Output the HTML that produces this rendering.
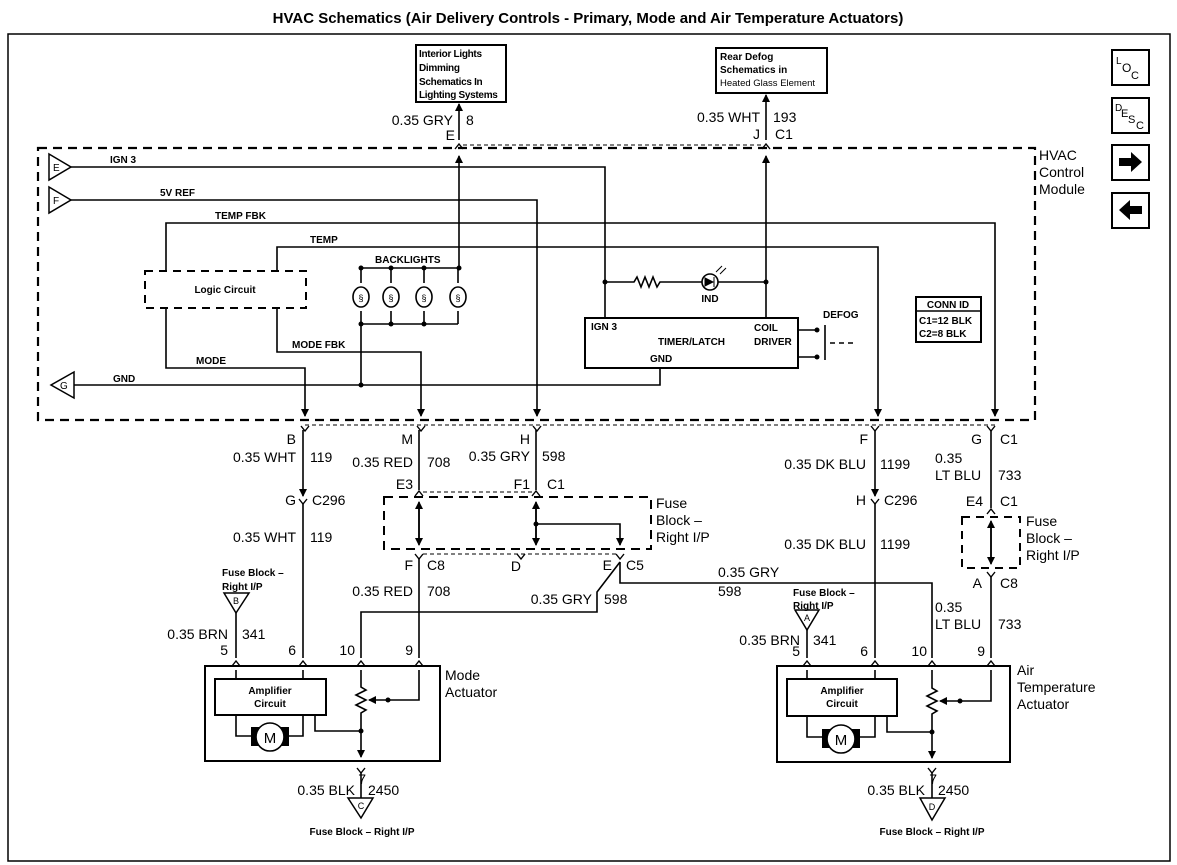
<!DOCTYPE html>
<html><head><meta charset="utf-8"><style>
html,body{margin:0;padding:0;background:#fff}
svg{display:block}
text{font-family:"Liberation Sans",Arial,sans-serif;fill:#000}
.w{fill:none;stroke:#000;stroke-width:1.6}
.d{fill:none;stroke:#000;stroke-width:2.2;stroke-dasharray:9,6}
.t{fill:none;stroke:#000;stroke-width:1;stroke-dasharray:4,3}
.l{font-size:14px}
.s{font-size:10px;font-weight:bold}
.m{font-size:10px;font-weight:bold;letter-spacing:-0.3px}
</style></head><body>
<svg width="1177" height="865" viewBox="0 0 1177 865" xmlns="http://www.w3.org/2000/svg">
<defs>
<marker id="a" markerWidth="8" markerHeight="8" refX="7" refY="4" orient="auto" markerUnits="userSpaceOnUse"><path d="M0,0 L8,4 L0,8 z" fill="#000"/></marker>
<g id="cd"><path d="M-4,-4 L0,1 L4,-4" fill="none" stroke="#000" stroke-width="1.4"/></g>
<g id="cu"><path d="M-4,4 L0,-1 L4,4" fill="none" stroke="#000" stroke-width="1.4"/></g>
<g id="dot"><circle r="2.5" fill="#000"/></g>
</defs>
<text x="588" y="23" font-size="15" font-weight="bold" text-anchor="middle">HVAC Schematics (Air Delivery Controls - Primary, Mode and Air Temperature Actuators)</text>
<rect x="8" y="34" width="1162" height="827" fill="none" stroke="#000" stroke-width="1.5"/>

<g fill="none" stroke="#000" stroke-width="2">
<rect x="1112" y="50" width="37" height="35"/><rect x="1112" y="98" width="37" height="35"/>
<rect x="1112" y="145" width="37" height="35"/><rect x="1112" y="193" width="37" height="35"/></g>
<text x="1116" y="64" font-size="10">L</text><text x="1122" y="72" font-size="12">O</text><text x="1131" y="79" font-size="11">C</text>
<text x="1115" y="111" font-size="10">D</text><text x="1121" y="117" font-size="11">E</text><text x="1128" y="123" font-size="11">S</text><text x="1136" y="129" font-size="11">C</text>
<path d="M1119,158 h12 v-6 l11,10 l-11,10 v-6 h-12 z" fill="#000"/>
<path d="M1142,206 h-12 v-6 l-11,10 l11,10 v-6 h12 z" fill="#000"/>

<rect x="416" y="45" width="90" height="57" fill="none" stroke="#000" stroke-width="2"/>
<text class="m" x="419" y="57">Interior Lights</text><text class="m" x="419" y="71">Dimming</text><text class="m" x="419" y="85">Schematics In</text><text class="m" x="419" y="98">Lighting Systems</text>
<rect x="716" y="48" width="111" height="45" fill="none" stroke="#000" stroke-width="2"/>
<text class="s" x="720" y="60">Rear Defog</text><text class="s" x="720" y="73">Schematics in</text><text font-size="9.5" x="720" y="86">Heated Glass Element</text>
<line class="w" x1="459" y1="140" x2="459" y2="104" marker-end="url(#a)"/>
<line class="w" x1="766" y1="140" x2="766" y2="95" marker-end="url(#a)"/>
<use href="#cu" x="459" y="145"/><use href="#cu" x="766" y="145"/>
<text class="l" x="453" y="125" text-anchor="end">0.35 GRY</text><text class="l" x="466" y="125">8</text><text class="l" x="455" y="140" text-anchor="end">E</text>
<text class="l" x="760" y="122" text-anchor="end">0.35 WHT</text><text class="l" x="773" y="122">193</text><text class="l" x="760" y="139" text-anchor="end">J</text><text class="l" x="775" y="139">C1</text>
<line class="t" x1="463" y1="145" x2="762" y2="145"/>

<rect class="d" x="38" y="148" width="997" height="272"/>
<text x="1039" y="160" font-size="14">HVAC</text><text x="1039" y="177" font-size="14">Control</text><text x="1039" y="194" font-size="14">Module</text>

<path d="M49,154 L71,167 L49,180 z" fill="#fff" stroke="#000" stroke-width="1.5"/><text x="53" y="171" font-size="10">E</text>
<path d="M49,187 L71,200 L49,213 z" fill="#fff" stroke="#000" stroke-width="1.5"/><text x="53" y="204" font-size="10">F</text>
<path d="M74,372 L51,385 L74,398 z" fill="#fff" stroke="#000" stroke-width="1.5"/><text x="60" y="389" font-size="10">G</text>

<path class="w" d="M71,167 H605 V318"/>
<path class="w" d="M71,200 H537 V416" marker-end="url(#a)"/>
<path class="w" d="M166,271 V223 H995 V416" marker-end="url(#a)"/>
<path class="w" d="M277,271 V247 H878 V416" marker-end="url(#a)"/>
<path class="w" d="M166,308 V368 H305 V416" marker-end="url(#a)"/>
<path class="w" d="M277,308 V352 H421 V416" marker-end="url(#a)"/>
<path class="w" d="M74,385 H660 V368"/>
<path class="w" d="M459,268 V156" marker-end="url(#a)"/>
<path class="w" d="M766,318 V156" marker-end="url(#a)"/>
<text class="s" x="110" y="163">IGN 3</text><text class="s" x="160" y="196">5V REF</text>
<text class="s" x="215" y="219">TEMP FBK</text><text class="s" x="310" y="243">TEMP</text>
<text class="s" x="375" y="263">BACKLIGHTS</text><text class="s" x="292" y="348">MODE FBK</text>
<text class="s" x="196" y="364">MODE</text><text class="s" x="113" y="382">GND</text>

<rect x="145" y="271" width="161" height="37" fill="none" stroke="#000" stroke-width="2" stroke-dasharray="8,6"/>
<text class="s" x="225" y="293" text-anchor="middle">Logic Circuit</text>

<path class="w" d="M361,268 H459 M361,268 V283 M391,268 V283 M424,268 V283 M458,268 V283 M361,311 V324 M391,311 V324 M424,311 V324 M458,311 V324 M361,324 H458 M361,324 V385"/>
<g fill="#fff" stroke="#000" stroke-width="1.6">
<ellipse cx="361" cy="297" rx="8" ry="10"/><ellipse cx="391" cy="297" rx="8" ry="10"/><ellipse cx="424" cy="297" rx="8" ry="10"/><ellipse cx="458" cy="297" rx="8" ry="10"/></g>
<g font-size="9" text-anchor="middle"><text x="361" y="301">§</text><text x="391" y="301">§</text><text x="424" y="301">§</text><text x="458" y="301">§</text></g>
<use href="#dot" x="361" y="268"/><use href="#dot" x="391" y="268"/><use href="#dot" x="424" y="268"/><use href="#dot" x="459" y="268"/>
<use href="#dot" x="361" y="324"/><use href="#dot" x="391" y="324"/><use href="#dot" x="424" y="324"/><use href="#dot" x="361" y="385"/>

<path class="w" d="M605,282 H634 l3,-5 l4,10 l4,-10 l4,10 l4,-10 l4,10 l3,-5 H702 M718,282 H766"/>
<circle cx="710" cy="282" r="8" fill="none" stroke="#000" stroke-width="1.6"/>
<path d="M705,278 L713,282 L705,286 z M714,277 V287" fill="#000" stroke="#000"/>
<path d="M716,272 l6,-6 M720,274 l6,-6" stroke="#000" stroke-width="1"/>
<use href="#dot" x="605" y="282"/><use href="#dot" x="766" y="282"/>
<text class="s" x="710" y="302" text-anchor="middle">IND</text>

<rect x="585" y="318" width="213" height="50" fill="none" stroke="#000" stroke-width="2"/>
<text class="s" x="591" y="330">IGN 3</text><text class="s" x="658" y="345">TIMER/LATCH</text><text class="s" x="650" y="362">GND</text>
<text class="s" x="754" y="331">COIL</text><text class="s" x="754" y="345">DRIVER</text>
<path class="w" d="M798,330 H817 M798,357 H817 M825,325 V360"/><use href="#dot" x="817" y="330"/><use href="#dot" x="817" y="357"/>
<path d="M830,343 H853" stroke="#000" stroke-width="1.5" stroke-dasharray="5,4"/>
<text class="s" x="823" y="318">DEFOG</text>
<rect x="916" y="297" width="65" height="45" fill="none" stroke="#000" stroke-width="2"/><line x1="916" y1="311" x2="981" y2="311" stroke="#000" stroke-width="1.5"/>
<text class="s" x="948" y="308" text-anchor="middle">CONN ID</text><text class="s" x="919" y="324">C1=12 BLK</text><text class="s" x="919" y="337">C2=8 BLK</text>

<line class="t" x1="305" y1="425" x2="995" y2="425"/>
<g><use href="#cd" x="305" y="430"/><use href="#cd" x="421" y="430"/><use href="#cd" x="537" y="430"/><use href="#cd" x="875" y="430"/><use href="#cd" x="991" y="430"/></g>

<path class="w" d="M303,430 V496" marker-end="url(#a)"/><use href="#cd" x="303" y="503"/>
<path class="w" d="M303,503 V658"/>
<text class="l" x="296" y="444" text-anchor="end">B</text><text class="l" x="296" y="462" text-anchor="end">0.35 WHT</text><text class="l" x="310" y="462">119</text>
<text class="l" x="296" y="505" text-anchor="end">G</text><text class="l" x="312" y="505">C296</text>
<text class="l" x="296" y="542" text-anchor="end">0.35 WHT</text><text class="l" x="310" y="542">119</text>

<path class="w" d="M419,430 V490"/><use href="#cu" x="419" y="492"/>
<text class="l" x="413" y="444" text-anchor="end">M</text><text class="l" x="413" y="467" text-anchor="end">0.35 RED</text><text class="l" x="427" y="467">708</text>
<text class="l" x="413" y="489" text-anchor="end">E3</text>
<path class="w" d="M536,430 V490"/><use href="#cu" x="536" y="492"/>
<text class="l" x="530" y="444" text-anchor="end">H</text><text class="l" x="530" y="461" text-anchor="end">0.35 GRY</text><text class="l" x="542" y="461">598</text>
<text class="l" x="530" y="489" text-anchor="end">F1</text><text class="l" x="547" y="489">C1</text>
<line class="t" x1="423" y1="492" x2="532" y2="492"/>

<rect x="384" y="497" width="267" height="52" fill="none" stroke="#000" stroke-width="2" stroke-dasharray="9,6"/>
<text class="l" x="656" y="508">Fuse</text><text class="l" x="656" y="525">Block –</text><text class="l" x="656" y="542">Right I/P</text>
<path class="w" d="M419,507 V545" marker-end="url(#a)"/><path class="w" d="M419,540 V502" marker-end="url(#a)"/>
<path class="w" d="M536,507 V545" marker-end="url(#a)"/><path class="w" d="M536,540 V502" marker-end="url(#a)"/>
<path class="w" d="M536,524 H620 V545" marker-end="url(#a)"/><use href="#dot" x="536" y="524"/>
<line class="t" x1="423" y1="554" x2="616" y2="554"/>
<use href="#cd" x="419" y="558"/><use href="#cd" x="521" y="558"/><use href="#cd" x="620" y="558"/>
<text class="l" x="413" y="570" text-anchor="end">F</text><text class="l" x="427" y="570">C8</text>
<text class="l" x="521" y="571" text-anchor="end">D</text><text class="l" x="612" y="570" text-anchor="end">E</text><text class="l" x="626" y="570">C5</text>
<path class="w" d="M419,558 V658"/>
<text class="l" x="413" y="596" text-anchor="end">0.35 RED</text><text class="l" x="427" y="596">708</text>
<path class="w" d="M620,562 L597,592 V612 H361 V658"/>
<text class="l" x="592" y="604" text-anchor="end">0.35 GRY</text><text class="l" x="604" y="604">598</text>
<path class="w" d="M620,562 V583 H932 V658"/>
<text class="l" x="718" y="577">0.35 GRY</text><text class="l" x="718" y="596">598</text>

<text class="s" x="222" y="576">Fuse Block –</text><text class="s" x="222" y="590">Right I/P</text>
<path d="M224,593 L249,593 L236,613 z" fill="none" stroke="#000" stroke-width="1.5"/><text x="236" y="604" font-size="9" text-anchor="middle">B</text>
<path class="w" d="M236,613 V658"/>
<text class="l" x="228" y="639" text-anchor="end">0.35 BRN</text><text class="l" x="242" y="639">341</text>
<text class="l" x="228" y="655" text-anchor="end">5</text><text class="l" x="296" y="655" text-anchor="end">6</text><text class="l" x="355" y="655" text-anchor="end">10</text><text class="l" x="413" y="655" text-anchor="end">9</text>
<use href="#cu" x="236" y="662"/><use href="#cu" x="303" y="662"/><use href="#cu" x="361" y="662"/><use href="#cu" x="419" y="662"/>
<rect x="205" y="666" width="235" height="95" fill="none" stroke="#000" stroke-width="2"/>
<rect x="215" y="679" width="111" height="36" fill="none" stroke="#000" stroke-width="2"/>
<text class="s" x="270" y="694" text-anchor="middle">Amplifier</text><text class="s" x="270" y="707" text-anchor="middle">Circuit</text>
<path class="w" d="M236,679 V670 M303,679 V670"/>
<path class="w" d="M236,715 V736 H256 M303,715 V736 H284"/>
<rect x="251" y="727" width="8" height="19" fill="#000"/><rect x="281" y="727" width="8" height="19" fill="#000"/>
<circle cx="270" cy="737" r="14" fill="#fff" stroke="#000" stroke-width="1.6"/><text x="270" y="743" font-size="15" text-anchor="middle">M</text>
<path class="w" d="M315,715 V731 H361"/><use href="#dot" x="361" y="731"/>
<path class="w" d="M361,670 V687 l5,3 l-10,5 l10,5 l-10,5 l10,5 l-5,3 V757" marker-end="url(#a)"/>
<path class="w" d="M419,670 V700 H369" marker-end="url(#a)"/><use href="#dot" x="388" y="700"/>
<use href="#cd" x="361" y="772"/>
<path class="w" d="M361,772 V798"/>
<text class="l" x="366" y="784" text-anchor="end">7</text><text class="l" x="355" y="795" text-anchor="end">0.35 BLK</text><text class="l" x="368" y="795">2450</text>
<path d="M348,798 L373,798 L361,818 z" fill="none" stroke="#000" stroke-width="1.5"/><text x="361" y="809" font-size="9" text-anchor="middle">C</text>
<text class="s" x="362" y="835" text-anchor="middle">Fuse Block – Right I/P</text>
<text x="445" y="680" font-size="14">Mode</text><text x="445" y="697" font-size="14">Actuator</text>

<path class="w" d="M875,430 V496" marker-end="url(#a)"/><use href="#cd" x="875" y="503"/><path class="w" d="M875,503 V658"/>
<text class="l" x="868" y="444" text-anchor="end">F</text><text class="l" x="866" y="469" text-anchor="end">0.35 DK BLU</text><text class="l" x="880" y="469">1199</text>
<text class="l" x="866" y="505" text-anchor="end">H</text><text class="l" x="884" y="505">C296</text>
<text class="l" x="866" y="549" text-anchor="end">0.35 DK BLU</text><text class="l" x="880" y="549">1199</text>
<path class="w" d="M991,430 V508"/><use href="#cu" x="991" y="510"/>
<text class="l" x="982" y="444" text-anchor="end">G</text><text class="l" x="1000" y="444">C1</text>
<text class="l" x="935" y="463">0.35</text><text class="l" x="935" y="480">LT BLU</text><text class="l" x="998" y="480">733</text>
<text class="l" x="983" y="506" text-anchor="end">E4</text><text class="l" x="1000" y="506">C1</text>
<rect x="962" y="517" width="58" height="51" fill="none" stroke="#000" stroke-width="2" stroke-dasharray="8,6"/>
<text class="l" x="1026" y="526">Fuse</text><text class="l" x="1026" y="543">Block –</text><text class="l" x="1026" y="560">Right I/P</text>
<path class="w" d="M991,527 V564" marker-end="url(#a)"/><path class="w" d="M991,560 V521" marker-end="url(#a)"/>
<use href="#cd" x="991" y="576"/><path class="w" d="M991,576 V658"/>
<text class="l" x="982" y="588" text-anchor="end">A</text><text class="l" x="1000" y="588">C8</text>
<text class="l" x="935" y="612">0.35</text><text class="l" x="935" y="629">LT BLU</text><text class="l" x="998" y="629">733</text>

<text class="s" x="793" y="596">Fuse Block –</text><text class="s" x="793" y="609">Right I/P</text>
<path d="M795,610 L819,610 L807,630 z" fill="none" stroke="#000" stroke-width="1.5"/><text x="807" y="621" font-size="9" text-anchor="middle">A</text>
<path class="w" d="M807,630 V658"/>
<text class="l" x="800" y="645" text-anchor="end">0.35 BRN</text><text class="l" x="813" y="645">341</text>
<text class="l" x="800" y="656" text-anchor="end">5</text><text class="l" x="868" y="656" text-anchor="end">6</text><text class="l" x="927" y="656" text-anchor="end">10</text><text class="l" x="985" y="656" text-anchor="end">9</text>
<use href="#cu" x="807" y="662"/><use href="#cu" x="875" y="662"/><use href="#cu" x="932" y="662"/><use href="#cu" x="991" y="662"/>
<rect x="777" y="666" width="233" height="96" fill="none" stroke="#000" stroke-width="2"/>
<rect x="787" y="679" width="110" height="37" fill="none" stroke="#000" stroke-width="2"/>
<text class="s" x="842" y="694" text-anchor="middle">Amplifier</text><text class="s" x="842" y="707" text-anchor="middle">Circuit</text>
<path class="w" d="M807,679 V670 M875,679 V670"/>
<path class="w" d="M807,716 V737 H827 M875,716 V737 H855"/>
<rect x="822" y="729" width="8" height="19" fill="#000"/><rect x="852" y="729" width="8" height="19" fill="#000"/>
<circle cx="841" cy="739" r="14" fill="#fff" stroke="#000" stroke-width="1.6"/><text x="841" y="745" font-size="15" text-anchor="middle">M</text>
<path class="w" d="M887,716 V732 H932"/><use href="#dot" x="932" y="732"/>
<path class="w" d="M932,670 V688 l5,3 l-10,5 l10,5 l-10,5 l10,5 l-5,3 V758" marker-end="url(#a)"/>
<path class="w" d="M991,670 V701 H940" marker-end="url(#a)"/><use href="#dot" x="960" y="701"/>
<use href="#cd" x="932" y="772"/><path class="w" d="M932,772 V798"/>
<text class="l" x="937" y="784" text-anchor="end">7</text><text class="l" x="925" y="795" text-anchor="end">0.35 BLK</text><text class="l" x="938" y="795">2450</text>
<path d="M920,798 L945,798 L932,820 z" fill="none" stroke="#000" stroke-width="1.5"/><text x="932" y="810" font-size="9" text-anchor="middle">D</text>
<text class="s" x="932" y="835" text-anchor="middle">Fuse Block – Right I/P</text>
<text x="1017" y="675" font-size="14">Air</text><text x="1017" y="692" font-size="14">Temperature</text><text x="1017" y="709" font-size="14">Actuator</text>
</svg>
</body></html>
